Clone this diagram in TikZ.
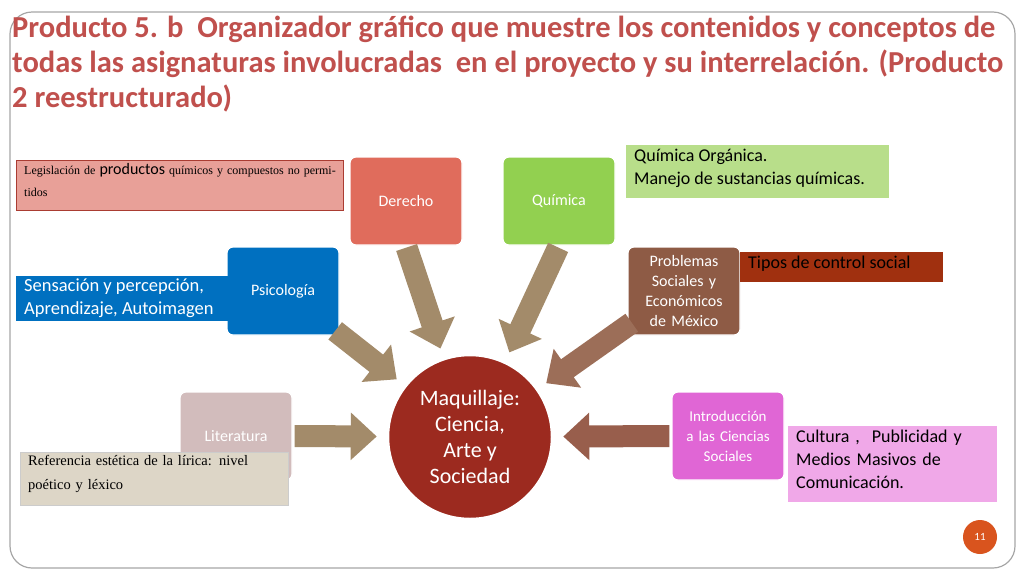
\documentclass[tikz,border=0pt]{standalone}
\usepackage{fontspec}
\setmainfont{Carlito}
\newfontfamily\serifx{Liberation Serif}
\usetikzlibrary{arrows.meta}
\definecolor{titlec}{HTML}{C0504D}
\definecolor{arrc}{HTML}{A38B6A}
\definecolor{arrb}{HTML}{9C6E58}
\definecolor{arrm}{HTML}{985E4C}
\tikzset{
 subj/.style={rounded corners=6pt, minimum width=112pt, minimum height=88pt, text width=106pt, align=center, text=white, font=\fontsize{16}{20}\selectfont, draw=white, line width=1.2pt, inner sep=2pt},
 info/.style={anchor=north west, inner sep=0pt, align=left},
 bigarrow/.style={line width=22pt, -{Triangle[width=46pt,length=26pt]}, shorten >=10pt, shorten <=2pt}
}
\begin{document}
\begin{tikzpicture}[x=1pt,y=-1pt]
\useasboundingbox (0,0) rectangle (1024,576);
\draw[gray!70, line width=1.2pt, rounded corners=22pt] (10,12) rectangle (1015,568);
\node[anchor=north west, align=left, font=\bfseries\fontsize{30.5}{35}\selectfont, text=titlec, inner sep=0pt] (title) at (12,16)
 {Producto 5. b\ \ Organizador gráfico que muestre los contenidos y conceptos de\\todas las asignaturas involucradas\ \ en el proyecto y su interrelación. (Producto\\2 reestructurado)};

\node[circle, fill={rgb,255:red,156;green,42;blue,31}, draw=white, line width=2.5pt, minimum size=164pt, text=white, align=center, font=\fontsize{22}{26}\selectfont] (center) at (470,437) {Maquillaje:\\Ciencia,\\Arte y\\Sociedad};

\node[subj, fill={rgb,255:red,224;green,108;blue,92}] (derecho) at (406,201) {Derecho};
\node[subj, fill={rgb,255:red,146;green,208;blue,80}] (quimica) at (559,201) {Química};
\node[subj, fill={rgb,255:red,0;green,112;blue,192}] (psico) at (283,291) {Psicología};
\node[subj, fill={rgb,255:red,142;green,91;blue,69}] (prob) at (684,291) {Problemas\\Sociales y\\Económicos\\de México};
\node[subj, fill={rgb,255:red,210;green,188;blue,188}] (lit) at (236,436) {Literatura};
\node[subj, fill={rgb,255:red,224;green,102;blue,213}, font=\fontsize{15}{20}\selectfont] (intro) at (728,436) {Introducción\\a las Ciencias\\Sociales};

\draw[bigarrow, arrc] (derecho.south) -- (center);
\draw[bigarrow, arrc] (quimica.south) -- (center);
\draw[bigarrow, arrc] (psico.south east) ++(-6,-6) coordinate (pse) -- (center);
\draw[bigarrow, arrb] (prob.south west) ++(6,-14) coordinate (psw) -- (center);
\draw[bigarrow, arrc] (lit.east) -- (center);
\draw[bigarrow, arrm] (intro.west) -- (center);

\node[info, fill={rgb,255:red,232;green,160;blue,152}, draw={rgb,255:red,170;green,60;blue,50}, minimum width=327pt, minimum height=50pt] (legis) at (16,160) {};
\node[info, text width=312pt, font=\serifx\fontsize{12}{22}\selectfont] (legist) at (24,163)
 {Legislación de {\fontspec{Carlito}\fontsize{16}{17}\selectfont productos} químicos y compuestos no permitidos};
\node[info, fill={rgb,255:red,184;green,222;blue,138}, minimum width=263pt, minimum height=53pt] (qinfo) at (626,145) {};
\node[info, font=\fontsize{18}{23}\selectfont] (qtext) at (634,149)
 {Química Orgánica.\\Manejo de sustancias químicas.};
\node[info, fill={rgb,255:red,0;green,112;blue,192}, minimum width=212pt, minimum height=45pt] (sens) at (16,276) {};
\node[info, text=white, font=\fontsize{18.5}{23}\selectfont] (senst) at (24,279)
 {Sensación y percepción,\\Aprendizaje, Autoimagen};
\node[info, fill={rgb,255:red,160;green,48;blue,15}, minimum width=203pt, minimum height=30pt] (tipos) at (740,252) {};
\node[info, font=\fontsize{18}{22}\selectfont] (tipost) at (748,256) {Tipos de control social};
\node[info, fill={rgb,255:red,221;green,214;blue,199}, draw=gray!40, minimum width=268pt, minimum height=53pt] (ref) at (20,452) {};
\node[info, text width=250pt, font=\serifx\fontsize{14.5}{24}\selectfont] (reft) at (28,455)
 {Referencia estética de la lírica: nivel poético y léxico};
\node[info, fill={rgb,255:red,240;green,168;blue,232}, minimum width=209pt, minimum height=76pt] (cult) at (788,426) {};
\node[info, text width=200pt, font=\fontsize{18}{23}\selectfont] (cultt) at (796,430)
 {Cultura ,\ \ Publicidad y\\Medios Masivos de\\Comunicación.};

\node[circle, fill={rgb,255:red,217;green,84;blue,30}, minimum size=34pt, text=white, font=\fontsize{11}{12}\selectfont] (num) at (980,537) {11};
\end{tikzpicture}
\end{document}
